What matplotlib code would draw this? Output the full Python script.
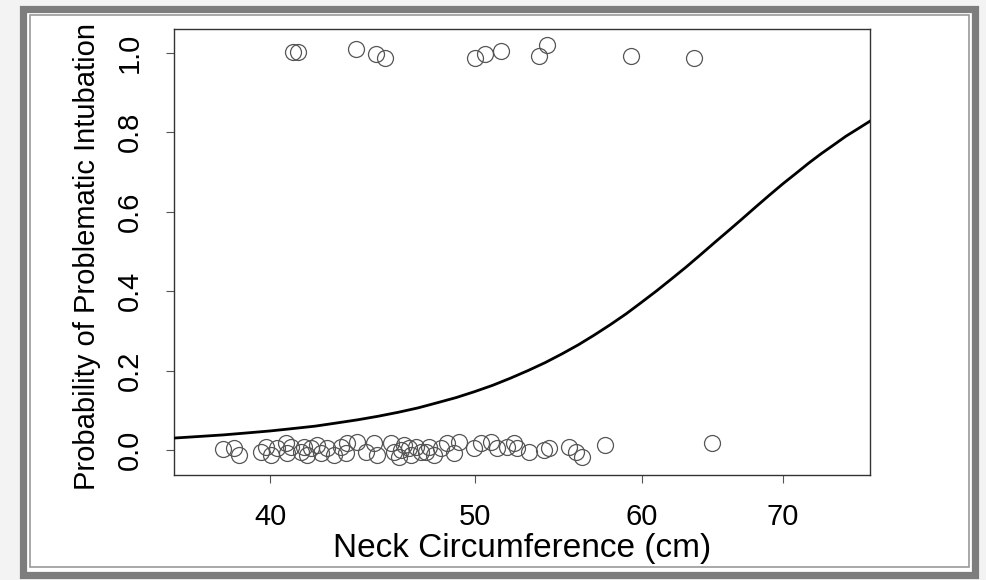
import matplotlib.pyplot as plt
from matplotlib.patches import Rectangle
from matplotlib.ticker import NullLocator

# neck circumference (cm) and jittered outcome
neck_ok = [37.96, 38.44, 38.65, 39.58, 39.80, 40.01, 40.30, 40.67, 40.74, 40.89,
           41.34, 41.49, 41.65, 41.80, 42.10, 42.26, 42.57, 42.87, 43.19, 43.43,
           43.51, 43.99, 44.39, 44.79, 44.96, 45.61, 45.78, 46.03, 46.12, 46.29,
           46.53, 46.62, 46.87, 47.13, 47.39, 47.56, 47.82, 48.17, 48.52, 48.87,
           49.14, 49.95, 50.32, 50.87, 51.24, 51.80, 52.18, 52.37, 53.04, 53.92,
           54.22, 55.41, 55.82, 56.23, 57.64, 64.77]
jit_ok = [0.002, 0.004, -0.013, -0.004, 0.008, -0.013, 0.004, 0.017, -0.008, 0.008,
          -0.005, 0.008, -0.013, 0.004, 0.013, -0.008, 0.004, -0.013, 0.008, -0.008,
          0.017, 0.021, -0.004, 0.017, -0.013, 0.017, -0.004, -0.017, 0.000, 0.013,
          0.004, -0.013, 0.008, -0.004, -0.005, 0.008, -0.013, 0.004, 0.017, -0.008,
          0.021, 0.004, 0.017, 0.021, 0.004, 0.008, 0.017, 0.004, -0.004, 0.000,
          0.004, 0.008, -0.004, -0.017, 0.013, 0.017]

neck_bad = [40.99, 41.21, 43.91, 44.88, 45.32, 50.04, 50.54, 51.48, 53.61, 54.13, 59.33, 63.54]
jit_bad = [1.003, 1.003, 1.010, 0.998, 0.988, 0.988, 0.998, 1.005, 0.991, 1.020, 0.991, 0.987]

# fitted probability curve, read at each whole cm
curve_x = [36, 37, 38, 39, 40, 41, 42, 43, 44, 45, 46, 47, 48, 49, 50, 51, 52, 53, 54, 55, 56,
           57, 58, 59, 60, 61, 62, 63, 64, 65, 66, 67, 68, 69, 70, 71, 72, 73, 74, 75, 76, 77]
curve_p = [0.030, 0.034, 0.038, 0.043, 0.048, 0.054, 0.060, 0.068, 0.076, 0.085, 0.095,
           0.106, 0.119, 0.132, 0.147, 0.163, 0.181, 0.200, 0.220, 0.242, 0.265, 0.290,
           0.316, 0.343, 0.372, 0.401, 0.431, 0.461, 0.492, 0.523, 0.553, 0.583, 0.613,
           0.642, 0.670, 0.696, 0.722, 0.746, 0.768, 0.790, 0.809, 0.828]

x_ticks = [40, 50, 60, 70]
y_ticks = [0.0, 0.2, 0.4, 0.6, 0.8, 1.0]

plt.rcParams['font.family'] = ['Liberation Sans', 'DejaVu Sans']

W, H = 987, 580
fig = plt.figure(figsize=(W / 100, H / 100), dpi=100)
fig.patch.set_facecolor('#f3f3f3')


def px_rect(x0, y0, x1, y1, **kw):
    # rectangle given in image pixels (y down), kept behind the axes
    r = Rectangle((x0 / W, 1 - y1 / H), (x1 - x0) / W, (y1 - y0) / H,
                  transform=fig.transFigure, zorder=-5, **kw)
    fig.patches.append(r)


# picture frame
px_rect(23.5, 8.5, 975.5, 574.5, facecolor='white', edgecolor='#7d7d7d', linewidth=5.2)
px_rect(30, 15, 969, 567, facecolor='none', edgecolor='#9a9a9a', linewidth=1.2)

ax = fig.add_axes([174 / W, 1 - 475 / H, (870 - 174) / W, (475 - 29) / H])
ax.set_zorder(2)
ax.set_facecolor('white')

ax.plot(curve_x, curve_p, color='black', linewidth=2.0, zorder=3)
ax.plot(neck_ok, jit_ok, linestyle='none', marker='o', markersize=11.5,
        markerfacecolor='none', markeredgecolor='#555555', markeredgewidth=0.9)
ax.plot(neck_bad, jit_bad, linestyle='none', marker='o', markersize=11.5,
        markerfacecolor='none', markeredgecolor='#555555', markeredgewidth=0.9)

ax.set_xscale('log')
ax.set_xlim(36.0, 77.0)
ax.set_ylim(-0.063, 1.06)
ax.set_xticks(x_ticks)
ax.set_xticklabels([str(v) for v in x_ticks])
ax.xaxis.set_minor_locator(NullLocator())
ax.set_yticks(y_ticks)
ax.set_yticklabels(['%.1f' % v for v in y_ticks], rotation=90, va='center')

for s in ax.spines.values():
    s.set_color('#333333')
    s.set_linewidth(1.0)

ax.tick_params(axis='x', length=6, width=0.8, color='#555555', labelsize=21, pad=14)
ax.tick_params(axis='y', length=6, width=0.8, color='#555555', labelsize=21, pad=16)

ax.set_xlabel('Neck Circumference (cm)', fontsize=24, va='center')
ax.xaxis.set_label_coords(0.5, -0.164)
ax.set_ylabel('Probability of Problematic Intubation', fontsize=21, va='center')
ax.yaxis.set_label_coords(-0.125, 0.49)

fig.savefig('out.png', dpi=100, facecolor=fig.get_facecolor())
